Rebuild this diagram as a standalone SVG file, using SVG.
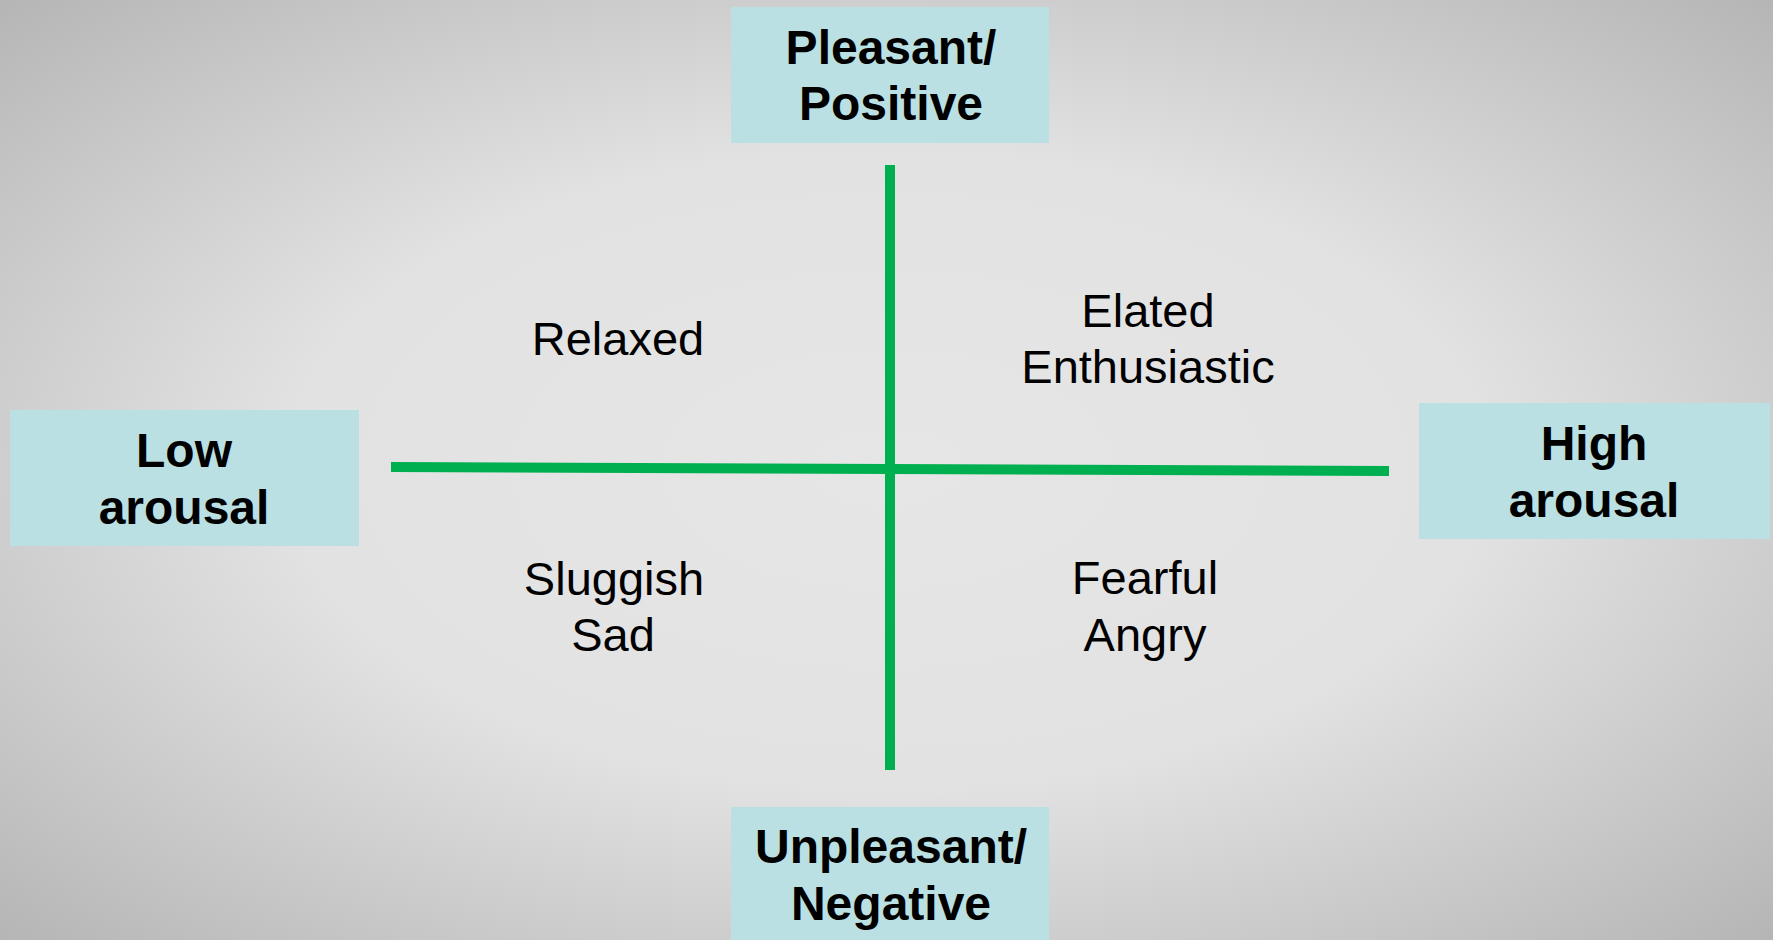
<svg xmlns="http://www.w3.org/2000/svg" width="1773" height="940" viewBox="0 0 1773 940">
<defs>
<radialGradient id="bg" cx="50%" cy="50%" r="75%" fx="50%" fy="50%">
<stop offset="0" stop-color="#e6e6e6"/>
<stop offset="0.45" stop-color="#e2e2e2"/>
<stop offset="1" stop-color="#b0b0b0"/>
</radialGradient>
<style>
.box{fill:#bae0e3}
.b{font-family:"Liberation Sans",Arial,sans-serif;font-weight:bold;font-size:48px;fill:#000;text-anchor:middle}
.r{font-family:"Liberation Sans",Arial,sans-serif;font-size:47px;fill:#000;text-anchor:middle}
.ax{stroke:#00b050;stroke-width:10;fill:none}
</style>
</defs>
<rect x="0" y="0" width="1773" height="940" fill="url(#bg)"/>
<g id="connectors">
<line class="ax" x1="890" y1="165" x2="890" y2="770"/>
<line class="ax" x1="391" y1="467" x2="1389" y2="471"/>
</g>
<g id="pleasant">
<rect class="box" x="731" y="7" width="318" height="136"/>
<text class="b" x="891" y="64">Pleasant/</text>
<text class="b" x="891" y="120">Positive</text>
</g>
<g id="unpleasant">
<rect class="box" x="731" y="807" width="318" height="133"/>
<text class="b" x="891" y="863">Unpleasant/</text>
<text class="b" x="891" y="920">Negative</text>
</g>
<g id="low">
<rect class="box" x="10" y="410" width="349" height="136"/>
<text class="b" x="184" y="467">Low</text>
<text class="b" x="184" y="524">arousal</text>
</g>
<g id="high">
<rect class="box" x="1419" y="403" width="351" height="136"/>
<text class="b" x="1594" y="460">High</text>
<text class="b" x="1594" y="517">arousal</text>
</g>
<g id="q-relaxed">
<text class="r" x="618" y="355">Relaxed</text>
</g>
<g id="q-elated">
<text class="r" x="1148" y="327">Elated</text>
<text class="r" x="1148" y="383">Enthusiastic</text>
</g>
<g id="q-sluggish">
<text class="r" x="614" y="595">Sluggish</text>
<text class="r" x="613" y="651">Sad</text>
</g>
<g id="q-fearful">
<text class="r" x="1145" y="594">Fearful</text>
<text class="r" x="1145" y="651">Angry</text>
</g>
</svg>
